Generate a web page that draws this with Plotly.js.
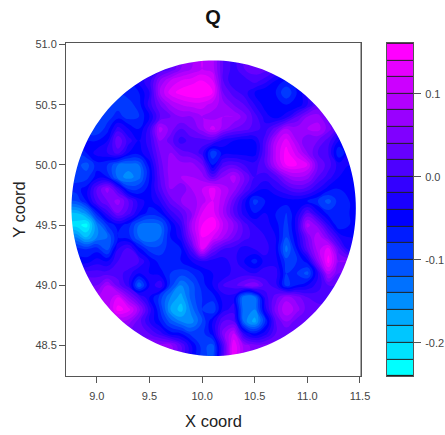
<!DOCTYPE html>
<html><head><meta charset="utf-8">
<script src="https://cdn.plot.ly/plotly-3.0.1.min.js"></script>
<style>html,body{margin:0;padding:0;background:#fff}</style></head>
<body><div id="chart" style="width:445px;height:435px"></div>
<script>
const xCoords=[8.7,8.8,8.9,9.0,9.1,9.2,9.3,9.4,9.5,9.6,9.7,9.8,9.9,10.0,10.1,10.2,10.3,10.4,10.5,10.6,10.7,10.8,10.9,11.0,11.1,11.2,11.3,11.4,11.5];
const yCoords=[50.9,50.8,50.7,50.6,50.5,50.4,50.3,50.2,50.1,50.0,49.9,49.8,49.7,49.6,49.5,49.4,49.3,49.2,49.1,49.0,48.9,48.8,48.7,48.6,48.5,48.4,48.3];
// Q values in hundredths, rows top to bottom, columns left to right
const qHundredths=[
[-6,-6,-6,-6,-6,-6,-6,-5,-3,0,2,6,8,10,9,2,-1,2,3,3,1,-1,-1,-1,-1,-1,-1,-1,-1],
[-6,-6,-6,-6,-6,-6,-6,-5,-3,0,2,6,8,10,9,2,-1,2,3,3,1,-1,-1,-1,-1,-1,-1,-1,-1],
[-7,-7,-7,-7,-7,-7,-6,-3,-1,6,10,12,13,14,12,2,-2,-1,1,-1,-4,-6,-5,-3,-2,-1,-1,-1,-1],
[-8,-8,-8,-8,-8,-8,-7,-6,-2,8,13,15,16,16,14,4,1,-1,-4,-6,-6,-10,-6,-2,1,1,1,1,1],
[-9,-9,-9,-9,-9,-9,-9,-7,-1,4,8,10,11,11,9,7,4,2,-2,-5,-6,-6,-6,-2,2,2,2,2,2],
[-9,-9,-9,-9,-9,-7,-9,-8,-4,2,4,6,6,8,7,8,8,5,1,-3,-5,-3,2,6,7,3,3,1,1],
[-10,-10,-10,-10,-7,-1,-4,-6,-1,9,5,2,4,7,11,7,4,3,1,-1,3,8,7,8,9,5,1,-1,-1],
[-6,-6,-6,-6,-4,4,-1,-4,-1,6,3,-1,1,1,1,-3,-4,-5,-4,1,9,13,8,4,4,1,-4,-5,-5],
[-8,-8,-6,-3,-2,1,-4,-5,-2,4,6,3,2,-1,-10,-5,-5,-5,-5,2,10,15,11,6,2,0,-8,-4,-4],
[-9,-9,-11,-7,-8,-12,-13,-12,-5,3,7,7,7,4,-6,1,2,0,-1,2,9,14,14,12,4,1,-3,-4,-4],
[-9,-9,-9,-5,-6,-13,-15,-13,-6,2,7,8,8,7,2,6,9,4,0,-1,1,6,8,7,2,-1,-4,-5,-5],
[-7,-7,-5,2,7,0,-8,-8,-5,1,6,4,8,10,13,9,7,2,-2,-4,-2,0,2,1,-2,-5,-6,-6,-6],
[-10,-10,-6,1,4,7,2,-3,-5,-2,3,6,7,9,12,9,3,-3,-9,-6,-6,-5,-5,-6,-8,-11,-7,-6,-6],
[-18,-18,-15,-7,-1,4,1,-4,-7,-6,-1,2,6,12,13,8,2,-3,-6,-4,-6,-8,-4,2,-3,-7,-7,-6,-6],
[-21,-21,-23,-14,-8,-5,-7,-12,-13,-12,-6,-1,8,14,16,10,6,1,-2,-3,-5,-9,-3,9,5,-2,-8,-6,-6],
[-14,-14,-18,-14,-12,-6,-7,-12,-14,-12,-6,-3,6,14,12,8,4,1,-1,-2,-4,-10,-4,4,10,4,-2,-4,-4],
[-7,-7,-8,-7,-11,-2,1,-5,-9,-9,-7,-6,1,12,4,0,-1,-3,-2,-1,-4,-13,-6,2,9,13,3,-3,-3],
[-5,-5,-5,-3,-4,0,2,0,-4,-7,-7,-6,-4,-2,-3,-3,-1,-4,-7,-3,-3,-9,-8,-5,6,15,6,6,6],
[1,1,1,1,1,1,-1,-4,-4,-5,-8,-9,-8,-6,-4,-4,-1,-1,-2,-1,-1,-8,-8,-11,-2,9,4,4,4],
[4,4,4,4,8,3,-1,-12,-4,0,-9,-14,-11,-7,-4,0,1,4,6,1,-1,-9,-6,-4,-1,2,2,2,2],
[8,8,8,8,8,12,6,1,-4,-9,-14,-17,-11,-8,-7,-3,-3,-14,-13,-1,3,7,5,2,1,1,1,1,1],
[8,8,8,8,8,15,13,7,-1,-8,-16,-19,-13,-8,-10,-3,-1,-14,-14,-3,5,10,7,3,3,3,3,3,3],
[7,7,7,7,7,7,7,3,-2,-6,-11,-14,-15,-10,-4,2,2,-13,-17,-8,2,6,3,3,3,3,3,3,3],
[3,3,3,3,3,3,3,3,2,-1,-5,-6,-9,-9,-5,5,10,-2,-6,-3,2,2,2,2,2,2,2,2,2],
[7,7,7,7,7,7,7,7,7,7,7,2,-4,-9,-11,1,14,7,5,5,5,5,5,5,5,5,5,5,5],
[7,7,7,7,7,7,7,7,7,7,7,2,-4,-9,-11,1,14,7,5,5,5,5,5,5,5,5,5,5,5],
[7,7,7,7,7,7,7,7,7,7,7,2,-4,-9,-11,1,14,7,5,5,5,5,5,5,5,5,5,5,5]
];
const qLevels=[-0.23,-0.21,-0.19,-0.17,-0.15,-0.13,-0.11,-0.09,-0.07,-0.05,-0.03,-0.01,0.01,0.03,0.05,0.07,0.09,0.11,0.13,0.15];
const barTickVals=[-0.2,-0.1,0.0,0.1];
const barTickText=['-0.2','-0.1','0.0','0.1'];
const xTickVals=[9,9.5,10,10.5,11,11.5];
const xTickText=['9.0','9.5','10.0','10.5','11.0','11.5'];
const yTickVals=[48.5,49,49.5,50,50.5,51];
const yTickText=['48.5','49.0','49.5','50.0','50.5','51.0'];

const scale=[[0,'#00ffff'],[9/19,'#0000ff'],[1,'#ff00ff']];
const xRange=[8.707,11.51], yRange=[48.247,51.012];
const font='"Liberation Sans", Arial, sans-serif';

// white mask leaving only the sampled disc visible
const cx=10.11, cy=49.64, rx=1.351, ry=1.227;
let ring='';
for(let i=0;i<=180;i++){const a=i/180*2*Math.PI;
  ring+=(i?'L':'M')+(cx+rx*Math.cos(a))+','+(cy+ry*Math.sin(a))+' ';}
const maskPath=`M${xRange[0]},${yRange[0]} L${xRange[0]},${yRange[1]} L${xRange[1]},${yRange[1]} L${xRange[1]},${yRange[0]} Z ${ring}Z`;

const axisBase={showgrid:false,zeroline:false,showline:true,mirror:true,linecolor:'#555',linewidth:1,
  ticks:'outside',ticklen:6,tickwidth:1,tickcolor:'#555',tickfont:{family:font,size:11,color:'#444'}};

Plotly.newPlot('chart',[
 {type:'contour',x:xCoords,y:yCoords,z:qHundredths.map(r=>r.map(v=>v/100)),
  zmin:-0.23,zmax:0.15,colorscale:scale,showscale:false,
  contours:{coloring:'fill',start:-0.22,end:0.14,size:0.02,showlines:false},
  line:{width:0,smoothing:1.3},hoverinfo:'skip'},
 {type:'heatmap',x:[0],y:qLevels,z:qLevels.map(v=>[v]),xaxis:'x2',yaxis:'y2',
  zmin:-0.23,zmax:0.15,colorscale:scale,showscale:false,ygap:1,hoverinfo:'skip'}
],{
 width:445,height:435,paper_bgcolor:'#fff',plot_bgcolor:'#222',showlegend:false,
 margin:{l:66,r:32,t:43,b:59,pad:0},
 title:{text:'<b>Q</b>',font:{family:font,size:20,color:'#111'},x:213/445,xanchor:'center',y:1-17/435,yanchor:'middle'},
 xaxis:Object.assign({},axisBase,{domain:[0,295/347],range:xRange,tickvals:xTickVals,ticktext:xTickText,ticklabelstandoff:4,
   title:{text:'X coord',font:{family:font,size:16.5,color:'#222'},standoff:14}}),
 yaxis:Object.assign({},axisBase,{range:yRange,tickvals:yTickVals,ticktext:yTickText,
   title:{text:'Y coord',font:{family:font,size:16.5,color:'#222'},standoff:5}}),
 xaxis2:Object.assign({},axisBase,{domain:[321/347,1],anchor:'y2',range:[-0.5,0.5],ticks:'',showticklabels:false}),
 yaxis2:Object.assign({},axisBase,{anchor:'x2',side:'right',range:[-0.24,0.161],tickvals:barTickVals,ticktext:barTickText,ticklen:7,ticklabelstandoff:2}),
 shapes:[
  {type:'path',path:maskPath,xref:'x',yref:'y',fillcolor:'#fff',fillrule:'evenodd',line:{width:0},layer:'above'},
  {type:'line',xref:'x',yref:'y',x0:xRange[1],x1:xRange[1],y0:yRange[0],y1:yRange[1],line:{color:'#aaa',width:2},layer:'above'}
 ]
},{staticPlot:true,displayModeBar:false});
</script></body></html>
